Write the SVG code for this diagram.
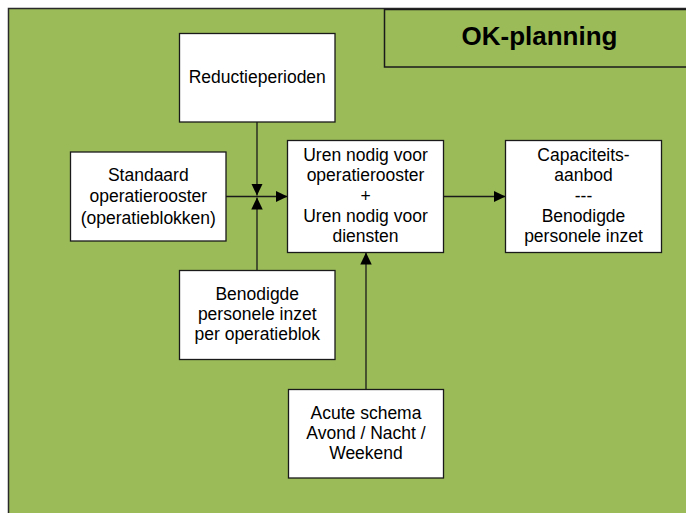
<svg xmlns="http://www.w3.org/2000/svg" width="686" height="513" viewBox="0 0 686 513">
<style>
.node rect{fill:#ffffff;stroke:#1a1a1a;stroke-width:1.3}
.node text{font-family:"Liberation Sans",Arial,sans-serif;font-size:17.5px;fill:#000;text-anchor:middle}
.conn line{stroke:#1a1a1a;stroke-width:1.3;fill:none}
.title text{font-family:"Liberation Sans",Arial,sans-serif;font-size:26px;font-weight:bold;fill:#000;text-anchor:middle}
</style>
<defs>
<marker id="arr" markerUnits="userSpaceOnUse" markerWidth="12" markerHeight="12" viewBox="0 0 11.5 11" refX="11.5" refY="5.5" orient="auto">
<path d="M0,0 L11.5,5.5 L0,11 z" fill="#000"/>
</marker>
</defs>
<rect width="686" height="513" fill="#ffffff"/>
<rect id="background" x="8.5" y="8.5" width="700" height="520" fill="#9BBB59" stroke="#2a2a2a" stroke-width="1.5"/>
<g id="title" class="title">
<rect x="384.5" y="9.5" width="320" height="57.5" fill="#9BBB59" stroke="#1a1a1a" stroke-width="1.5"/>
<text x="539.5" y="45">OK-planning</text>
</g>
<g id="connectors" class="conn">
<line x1="257" y1="122" x2="257" y2="195.5" marker-end="url(#arr)"/>
<line x1="257" y1="270.5" x2="257" y2="197.5" marker-end="url(#arr)"/>
<line x1="226" y1="196.5" x2="287.5" y2="196.5" marker-end="url(#arr)"/>
<line x1="443.5" y1="196.5" x2="505.5" y2="196.5" marker-end="url(#arr)"/>
<line x1="366" y1="389" x2="366" y2="252.5" marker-end="url(#arr)"/>
</g>
<g id="reductieperioden" class="node">
<rect x="179.5" y="33.5" width="155.5" height="88.5"/>
<text x="257.25" y="83">Reductieperioden</text>
</g>
<g id="standaard" class="node">
<rect x="70.5" y="152" width="155.5" height="89"/>
<text x="148.3" y="181">Standaard</text>
<text x="148.3" y="202">operatierooster</text>
<text x="148.3" y="223.5">(operatieblokken)</text>
</g>
<g id="uren" class="node">
<rect x="287.5" y="140.5" width="156" height="112"/>
<text x="365.5" y="161">Uren nodig voor</text>
<text x="365.5" y="181.3">operatierooster</text>
<text x="365.5" y="201.6">+</text>
<text x="365.5" y="222">Uren nodig voor</text>
<text x="365.5" y="242">diensten</text>
</g>
<g id="capaciteit" class="node">
<rect x="505.5" y="140.5" width="156" height="112"/>
<text x="583.5" y="161">Capaciteits-</text>
<text x="583.5" y="181.3">aanbod</text>
<text x="583.5" y="201.6">---</text>
<text x="583.5" y="222">Benodigde</text>
<text x="583.5" y="242">personele inzet</text>
</g>
<g id="benodigde" class="node">
<rect x="179.5" y="270.5" width="155.5" height="89"/>
<text x="257.25" y="299.5">Benodigde</text>
<text x="257.25" y="320">personele inzet</text>
<text x="257.25" y="340">per operatieblok</text>
</g>
<g id="acute" class="node">
<rect x="288.5" y="389.5" width="155" height="88.5"/>
<text x="366" y="418.5">Acute schema</text>
<text x="366" y="438.5">Avond / Nacht /</text>
<text x="366" y="458.5">Weekend</text>
</g>
</svg>
